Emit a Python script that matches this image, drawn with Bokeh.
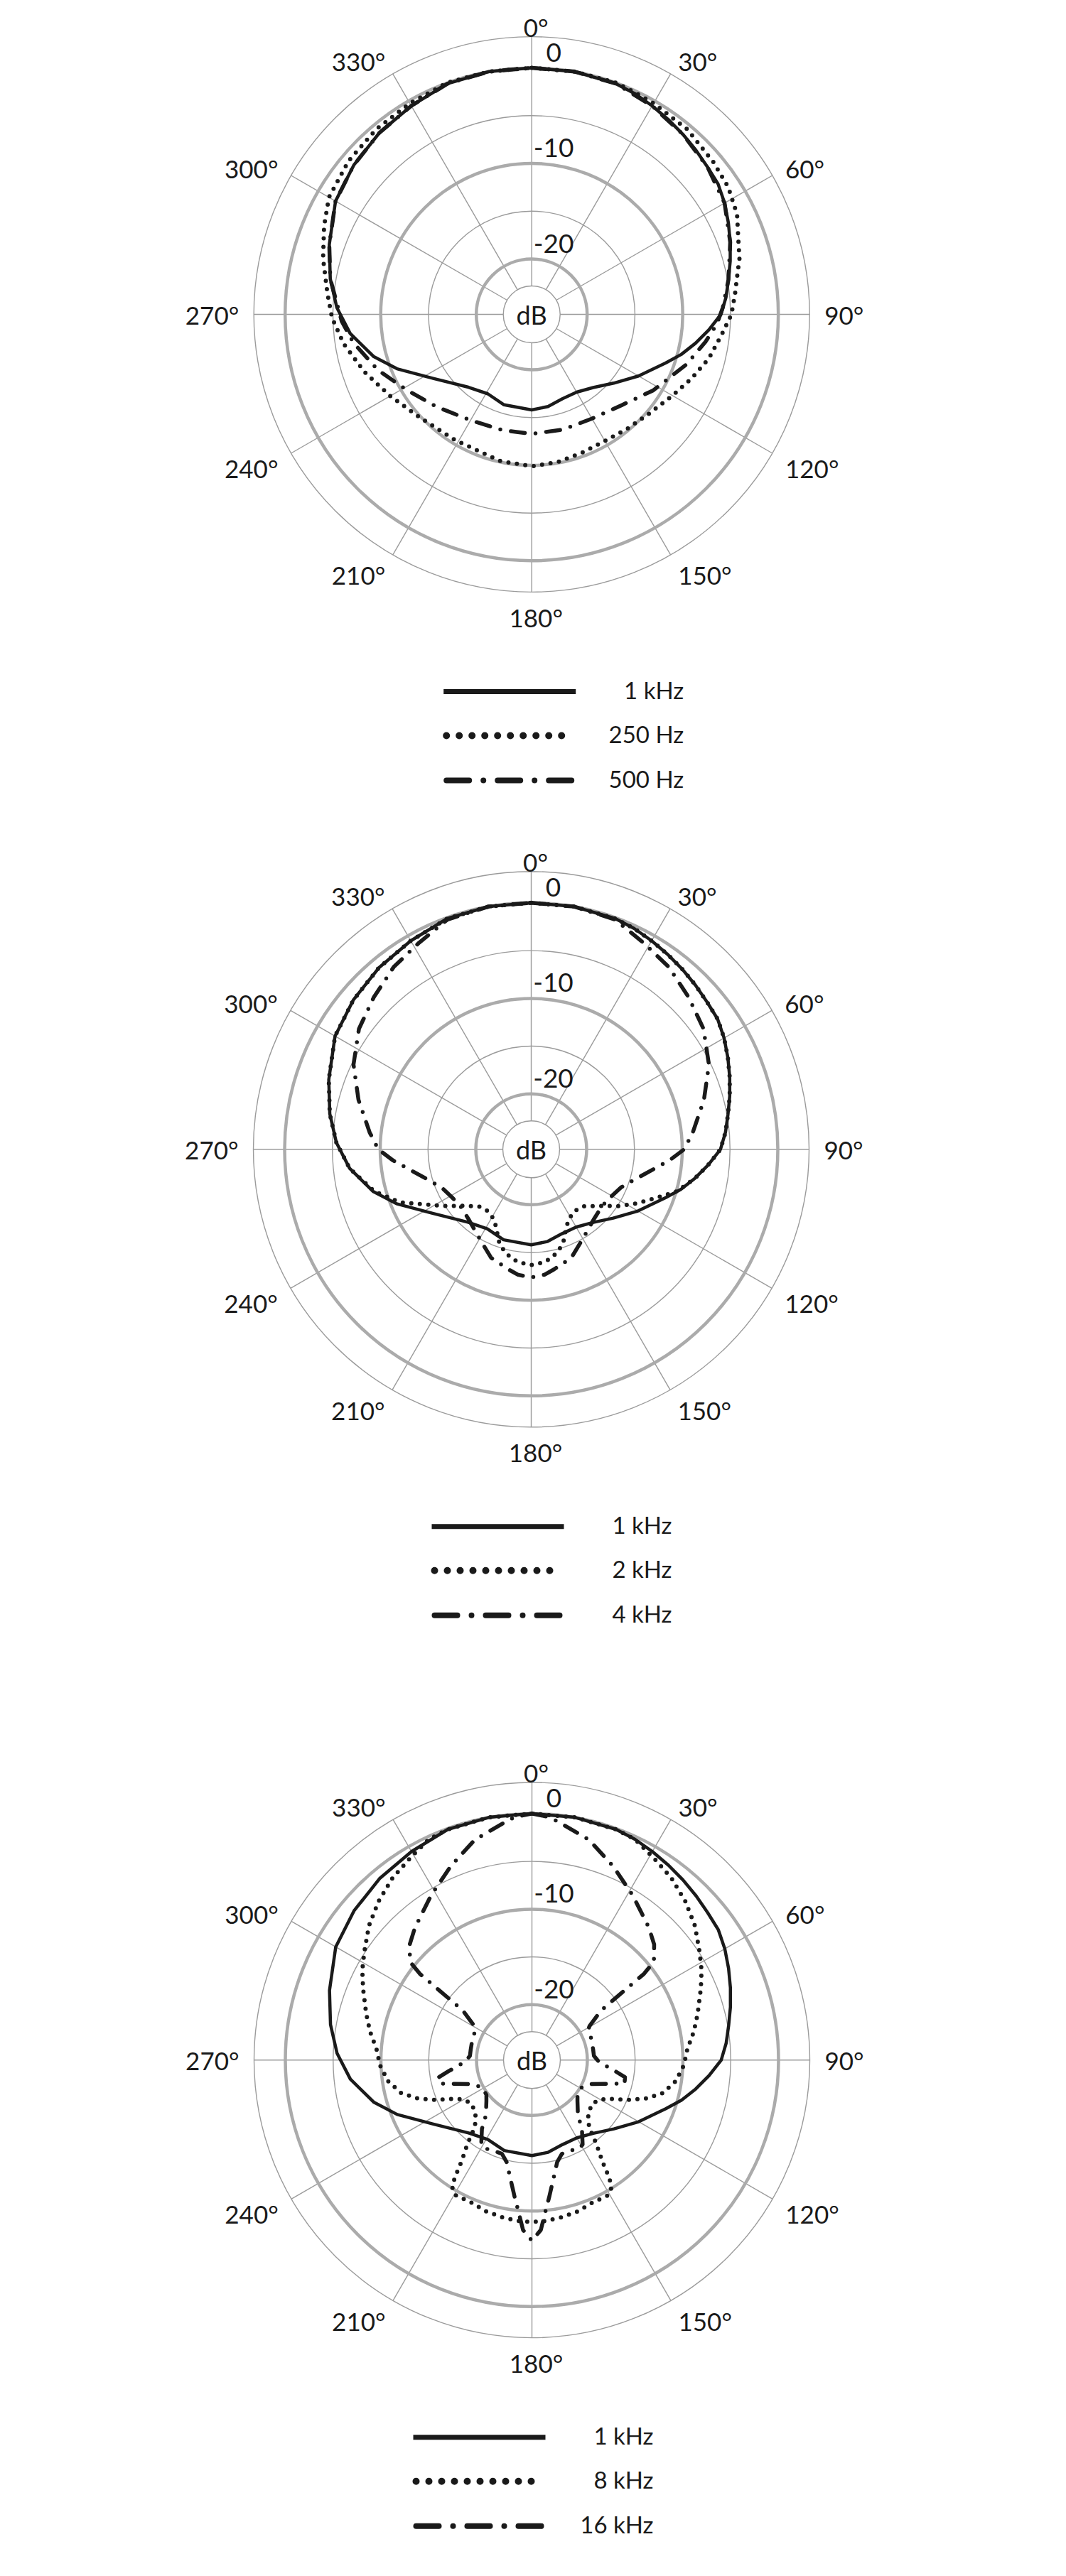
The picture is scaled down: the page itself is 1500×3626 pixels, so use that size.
import math
from bokeh.plotting import figure
from bokeh.models import Range1d
from bokeh.layouts import column
from bokeh.embed import file_html
from bokeh.resources import INLINE
from bokeh.core.properties import value

# ---------------- data ----------------
ANGLE_TICKS = [0, 30, 60, 90, 120, 150, 180, 210, 240, 270, 300, 330]
ANGLE_TICK_TEXT = ["0°", "30°", "60°", "90°", "120°", "150°", "180°",
                   "210°", "240°", "270°", "300°", "330°"]
DB_MAJOR = [0, -10, -20]
DB_MINOR = [-5, -15]
DB_MAJOR_TEXT = ["0", "-10", "-20"]
HUB_TEXT = "dB"

# 1 kHz reference curve (same in all three diagrams)
K1_DEG = [0, 10, 20, 25, 30, 35, 40, 45, 50, 55, 60, 65, 70, 75, 80, 85, 90, 95, 100, 105,
          110, 120, 130, 140, 150, 160, 170, 180, 197, 209, 221, 237, 248, 255, 264, 272,
          280, 289, 300, 310, 320, 330, 340, 350, 360]
K1_DB = [0, 0, -0.1, -0.3, -0.6, -0.9, -1.2, -1.5, -1.8, -2.0, -2.5, -3.1, -3.7, -4.3, -4.9,
         -5.4, -6.0, -7.2, -8.4, -9.6, -10.9, -12.9, -14.6, -15.8, -16.4, -16.4, -16.0, -15.8,
         -15.9, -16.3, -15.7, -13.5, -10.6, -8.7, -6.7, -5.4, -4.4, -3.4, -2.1, -1.5, -1.0,
         -0.6, -0.1, 0, 0]

HZ250_DEG = [0, 10, 20, 25, 30, 40, 50, 57, 64, 70, 75, 80, 84, 90, 96, 104, 112, 120, 130,
             140, 150, 160, 170, 180, 192, 211, 227, 240, 251, 261, 269, 276, 285, 293, 300,
             310, 320, 330, 340, 350, 360]
HZ250_DB = [0, 0, 0, -0.2, -0.3, -0.5, -1.0, -1.3, -1.9, -2.8, -3.3, -4.0, -4.4, -4.9, -5.8,
            -6.7, -7.8, -8.8, -9.7, -10.2, -10.5, -10.4, -10.1, -9.9, -10.1, -10.4, -9.9, -8.7,
            -7.3, -5.9, -4.9, -4.3, -3.2, -2.2, -1.3, -0.8, -0.5, -0.3, 0, 0, 0]

HZ500_DEG = [0, 10, 20, 30, 40, 50, 60, 70, 80, 88, 93, 99, 108, 122, 135, 150, 165, 180,
             194, 210, 226, 239, 250, 261, 268, 280, 289, 300, 310, 320, 330, 340, 350, 360]
HZ500_DB = [0, 0, -0.1, -0.6, -1.2, -1.8, -2.5, -3.7, -4.9, -5.8, -6.4, -7.4, -8.8, -10.8,
            -12.4, -13.2, -13.3, -13.3, -13.3, -13.0, -11.9, -10.5, -8.7, -6.9, -5.9, -4.4,
            -3.4, -2.1, -1.5, -1.0, -0.6, -0.1, 0, 0]

K2_DEG = [0, 10, 20, 25, 30, 35, 40, 45, 50, 55, 60, 65, 70, 75, 80, 85, 90, 95, 100, 106,
          112, 117.5, 123, 129.5, 137.5, 144, 150.5, 155, 161, 165, 169, 173.5, 180, 186.5,
          191, 195, 199, 205, 209.5, 216, 222.5, 230.5, 237, 242.5, 248, 255, 264, 272, 280,
          289, 300, 310, 320, 330, 340, 350, 360]
K2_DB = [0, 0, -0.1, -0.3, -0.6, -0.9, -1.2, -1.5, -1.8, -2.0, -2.5, -3.1, -3.7, -4.3, -4.9,
         -5.4, -6.0, -7.2, -8.4, -9.9, -12.0, -13.5, -14.9, -16.5, -17.7, -17.9, -17.6, -17.0,
         -15.5, -14.8, -14.3, -13.9, -13.7, -13.9, -14.3, -14.8, -15.5, -17.0, -17.6, -17.9,
         -17.7, -16.5, -14.9, -13.3, -11.0, -8.8, -6.7, -5.4, -4.4, -3.4, -2.1, -1.5, -1.0,
         -0.6, -0.1, 0, 0]

K4_DEG = [0, 10, 20, 28.5, 37, 46, 55, 64.5, 74, 84, 90, 94.6, 104.7, 113, 121, 128.7, 137.8,
          143.6, 151.8, 159.7, 169.4, 174, 180, 186, 190.6, 200.3, 208.2, 216.4, 222.2,
          231.3, 239, 247, 255.3, 265.4, 270, 276, 286, 295.5, 305, 314, 323, 331.5, 340,
          350, 360]
K4_DB = [0, 0, -0.2, -1.2, -1.9, -2.9, -3.8, -5.2, -7.0, -8.8, -9.8, -11.3, -14.2, -15.6,
         -16.1, -16.3, -16.0, -15.6, -14.8, -13.7, -13.0, -12.6, -12.4, -12.6, -13.0, -13.7,
         -14.8, -15.6, -16.0, -16.3, -16.1, -15.6, -14.2, -11.3, -9.8, -8.8, -7.0, -5.2,
         -3.8, -2.9, -1.9, -1.2, -0.2, 0, 0]

K8_DEG = [0, 10, 20, 25, 31, 37.4, 44, 50.5, 57, 62, 67, 74.4, 80, 86, 92, 98.4, 104.2,
          108.6, 112.5, 116.4, 119.8, 125.3, 131.5, 136.5, 139.7, 142.5, 145.2, 146.7, 147.9,
          150.4, 156.9, 163.3, 169.6, 175.6, 180, 184.4, 190.4, 196.7, 203.1, 209.6, 212.1,
          213.3, 214.8, 217.5, 220.3, 223.5, 228.5, 234.7, 240.2, 243.6, 247.5, 251.4,
          255.8, 261.6, 268, 274, 280, 285.6, 293, 298, 303, 309.5, 316, 322.6, 329, 335,
          340, 350, 360]
K8_DB = [0, 0, -0.1, -0.3, -1.1, -1.8, -2.7, -3.7, -4.9, -5.7, -6.6, -7.8, -8.6, -9.5, -9.9,
         -10.6, -11.7, -13.2, -14.9, -16.7, -17.5, -18.0, -17.8, -17.3, -16.5, -14.7, -12.9,
         -11.1, -10.1, -9.55, -9.6, -9.25, -9.05, -8.9, -8.85, -8.9, -9.05, -9.25, -9.6,
         -9.55, -10.1, -11.1, -12.9, -14.7, -16.5, -17.3, -17.8, -18.0, -17.5, -16.7, -14.9,
         -13.2, -11.7, -10.6, -9.9, -9.5, -8.6, -7.8, -6.6, -5.7, -4.9, -3.7, -2.7, -1.8,
         -1.1, -0.3, -0.1, 0, 0]

K16_DEG = [0, 4, 6.3, 14.6, 22.7, 31.5, 41.4, 46.6, 51.1, 52.4, 52.9, 54.3, 59.4, 61.6, 70.7,
           80, 86, 91.4, 95.3, 97.6, 100.4, 104.3, 105.4, 106.8, 112, 119.5, 127.4, 131.9,
           140.1, 144, 149, 151.5, 156.4, 162.3, 166.1, 169.5, 172.9, 174.9, 177, 180, 183,
           185.1, 187.1, 190.5, 193.9, 197.7, 203.6, 208.5, 211, 216, 219.9, 228.1, 232.6,
           240.5, 248, 253.2, 254.6, 255.7, 259.6, 262.4, 264.7, 268.6, 274, 280, 289.3,
           298.4, 300.6, 305.7, 307.1, 307.6, 308.9, 313.4, 318.6, 328.5, 337.3, 345.4,
           353.7, 356, 360]
K16_DB = [0, -0.3, -0.7, -2.0, -3.8, -5.6, -7.3, -8.2, -9.4, -11.0, -13.2, -16.9, -18.8,
          -19.1, -19.2, -19.3, -19.3, -18.8, -17.8, -17.0, -15.9, -15.8, -16.5, -17.2, -19.1,
          -19.9, -19.8, -19.4, -18.3, -16.9, -15.5, -15.3, -15.5, -15.5, -14.8, -13.3,
          -11.3, -9.9, -8.0, -6.9, -8.0, -9.9, -11.3, -13.3, -14.8, -15.5, -15.5, -15.3,
          -15.5, -16.9, -18.3, -19.4, -19.8, -19.9, -19.1, -17.2, -16.5, -15.8, -15.9, -17.0,
          -17.8, -18.8, -19.3, -19.3, -19.2, -19.1, -18.8, -16.9, -13.2, -11.0, -9.4, -8.2,
          -7.3, -5.6, -3.8, -2.0, -0.7, -0.3, 0]

CHART1_LABELS = ["1 kHz", "250 Hz", "500 Hz"]
CHART2_LABELS = ["1 kHz", "2 kHz", "4 kHz"]
CHART3_LABELS = ["1 kHz", "8 kHz", "16 kHz"]

# ---------------- styling / layout ----------------
FONT = "Lato"
INK = "#1a1a1a"
GRID_THIN = "#9b9b9b"
GRID_THICK = "#ababab"

R0 = 347.0          # pixel radius of 0 dB
PX_PER_DB = 13.45
R_OUTER = 391.0
R_HUB = 40.0

CURVE_STYLE = {
    "solid": dict(line_width=4.5, line_cap="butt"),
    "dotted": dict(line_width=6, line_dash="0 12", line_cap="round"),
    "dashdot": dict(line_width=5.5, line_dash="20 15 0 15", line_cap="round"),
}
LEGEND_STYLE = {
    "solid": dict(line_width=7, line_cap="butt"),
    "dotted": dict(line_width=10, line_dash="0 18", line_cap="round"),
    "dashdot": dict(line_width=8, line_dash="32 20 0 20", line_cap="round"),
}
LEGEND_INSET = {"solid": 0, "dotted": 4, "dashdot": 4}
LEGEND_ROWS = [531, 593, 656]
LEGEND_LEN = 186
LEGEND_TEXT_GAP = 152

PAGE_W = 1484


def radius(db):
    return R0 + PX_PER_DB * db


def polar_xy(deg, db):
    xs, ys = [], []
    for a, d in zip(deg, db):
        r = radius(d)
        t = math.radians(a)
        xs.append(r * math.sin(t))
        ys.append(r * math.cos(t))
    return xs, ys


def make_chart(series, labels, top, height, cx, cy, legend_x0):
    p = figure(width=PAGE_W, height=height,
               x_range=Range1d(8 - cx, 8 + PAGE_W - cx),
               y_range=Range1d(cy - (top + height), cy - top),
               output_backend="svg", toolbar_location=None,
               x_axis_type=None, y_axis_type=None, min_border=0)
    p.outline_line_color = None
    p.background_fill_color = "white"
    p.border_fill_color = "white"

    # grid: spokes
    x0s, y0s, x1s, y1s = [], [], [], []
    for a in ANGLE_TICKS:
        t = math.radians(a)
        x0s.append(R_HUB * math.sin(t)); y0s.append(R_HUB * math.cos(t))
        x1s.append(R_OUTER * math.sin(t)); y1s.append(R_OUTER * math.cos(t))
    p.segment(x0=x0s, y0=y0s, x1=x1s, y1=y1s, line_color=GRID_THIN, line_width=1.4)

    # grid: circles
    thin_r = [R_HUB, R_OUTER] + [radius(d) for d in DB_MINOR]
    p.circle(x=[0] * len(thin_r), y=[0] * len(thin_r), radius=thin_r,
             fill_color=None, line_color=GRID_THIN, line_width=1.4)
    thick_r = [radius(d) for d in DB_MAJOR]
    p.circle(x=[0] * len(thick_r), y=[0] * len(thick_r), radius=thick_r,
             fill_color=None, line_color=GRID_THICK, line_width=4.5)

    # dB ring labels
    p.text(x=[31] * len(DB_MAJOR), y=[radius(d) + 22 for d in DB_MAJOR], text=DB_MAJOR_TEXT,
           text_align="center", text_baseline="middle", text_font=value(FONT),
           text_font_size="37px", text_color=INK)
    p.text(x=[0], y=[0], text=[HUB_TEXT], text_align="center", text_baseline="middle",
           text_font=value(FONT), text_font_size="36px", text_color=INK)

    # angle labels
    groups = {}
    for a, s in zip(ANGLE_TICKS, ANGLE_TICK_TEXT):
        t = math.radians(a)
        sn, cs = math.sin(t), math.cos(t)
        if abs(sn) < 0.01:
            if cs > 0:
                key = ("center", "alphabetic"); x, y = 6, 405
            else:
                key = ("center", "middle"); x, y = 6, -426
        else:
            key = ("left" if sn > 0 else "right", "middle")
            x, y = 412 * sn, 412 * cs - (10 if cs < -0.1 else 0)
        groups.setdefault(key, ([], [], []))
        groups[key][0].append(x); groups[key][1].append(y); groups[key][2].append(s)
    for (al, bl), (xs, ys, ts) in groups.items():
        p.text(x=xs, y=ys, text=ts, text_align=al, text_baseline=bl,
               text_font=value(FONT), text_font_size="35px", text_color=INK)

    # curves (solid reference drawn last, on top)
    for deg, db, style in reversed(series):
        xs, ys = polar_xy(deg, db)
        p.line(xs, ys, line_color=INK, line_join="round", **CURVE_STYLE[style])

    # legend
    for i, (lab, (deg, db, style)) in enumerate(zip(labels, series)):
        yy = -LEGEND_ROWS[i]
        ins = LEGEND_INSET[style]
        p.line([legend_x0 + ins, legend_x0 + LEGEND_LEN - ins], [yy, yy],
               line_color=INK, **LEGEND_STYLE[style])
        p.text(x=[legend_x0 + LEGEND_LEN + LEGEND_TEXT_GAP], y=[yy + 3], text=[lab],
               text_align="right", text_baseline="middle", text_font=value(FONT),
               text_font_size="33px", text_color=INK)
    return p


chart1 = make_chart([(K1_DEG, K1_DB, "solid"), (HZ250_DEG, HZ250_DB, "dotted"),
                     (HZ500_DEG, HZ500_DB, "dashdot")], CHART1_LABELS,
                    top=8, height=1162, cx=755.7, cy=450, legend_x0=-124)
chart2 = make_chart([(K1_DEG, K1_DB, "solid"), (K2_DEG, K2_DB, "dotted"),
                     (K4_DEG, K4_DB, "dashdot")], CHART2_LABELS,
                    top=1170, height=1270, cx=755, cy=1625.3, legend_x0=-140)
chart3 = make_chart([(K1_DEG, K1_DB, "solid"), (K8_DEG, K8_DB, "dotted"),
                     (K16_DEG, K16_DB, "dashdot")], CHART3_LABELS,
                    top=2440, height=1178, cx=756, cy=2907.3, legend_x0=-167)

layout = column(chart1, chart2, chart3, spacing=0)
open("out.html", "w").write(file_html(layout, INLINE))
